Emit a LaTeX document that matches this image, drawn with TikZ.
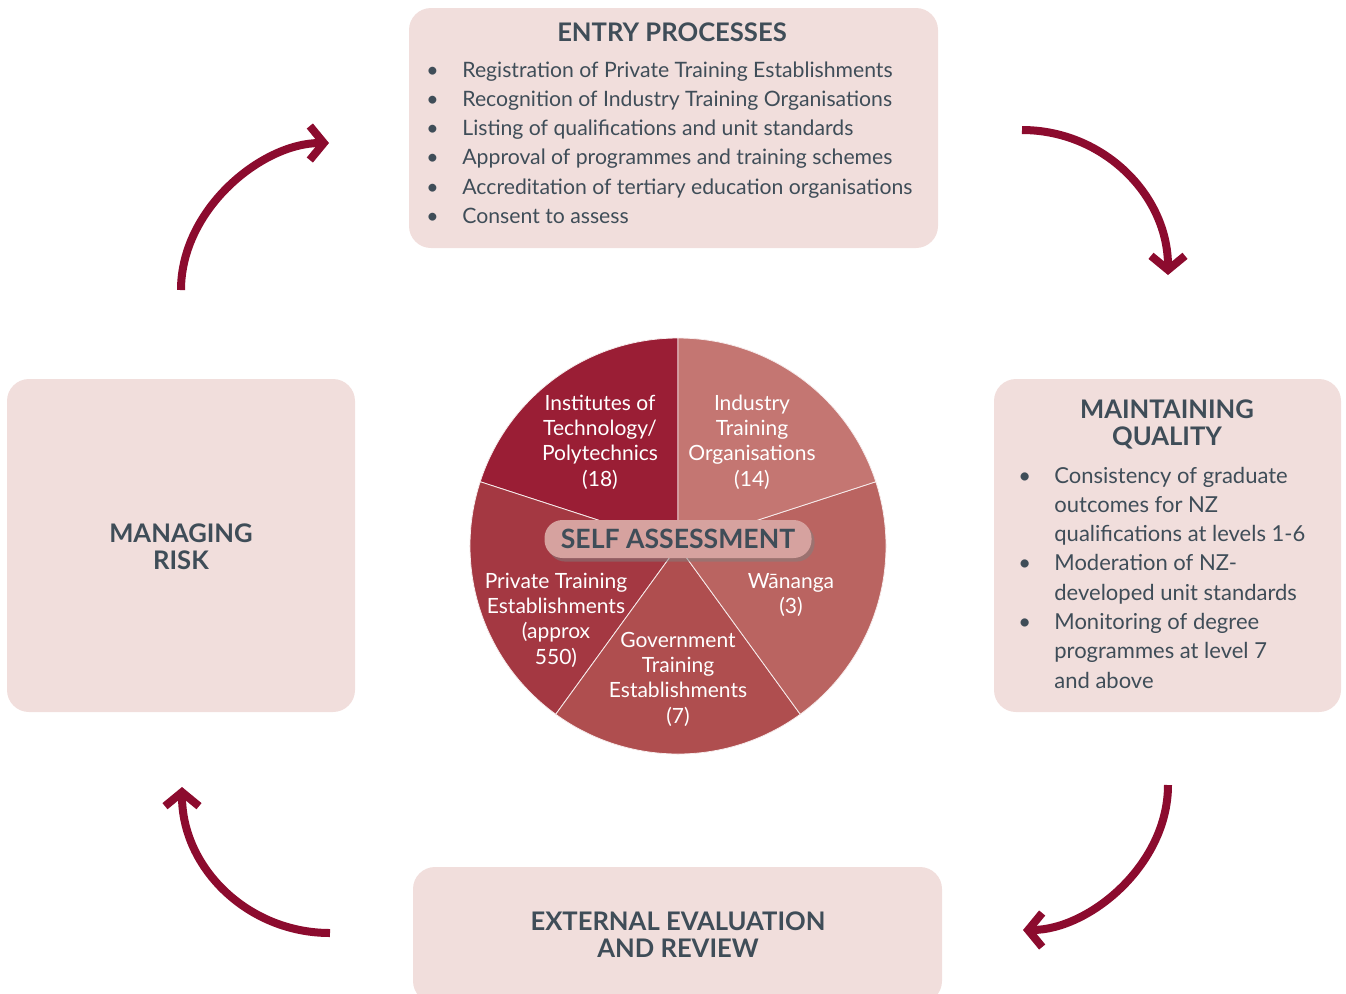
\documentclass[tikz,border=0pt]{standalone}
\usepackage{fontspec}
\setmainfont{Lato}
\usetikzlibrary{arrows.meta,shadows}
\definecolor{boxpink}{HTML}{F1DEDC}
\definecolor{slate}{HTML}{3F4D58}
\definecolor{arrowred}{HTML}{8C0B2E}
\definecolor{sliceITP}{HTML}{9A1E35}
\definecolor{sliceITO}{HTML}{C47672}
\definecolor{sliceWan}{HTML}{BA6461}
\definecolor{sliceGov}{HTML}{AF4E4F}
\definecolor{slicePTE}{HTML}{A43842}
\definecolor{pillpink}{HTML}{D6A29F}
\begin{document}
\begin{tikzpicture}[x=0.5pt, y=-0.5pt,
	stagebox/.style={rectangle, rounded corners=11pt, fill=boxpink, inner sep=0pt},
	heading/.style={text=slate, font=\fontsize{12.8}{13.5}\selectfont\bfseries, align=center, inner sep=0pt},
	listtext/.style={text=slate, font=\fontsize{11}{14.65}\selectfont, align=left, inner sep=0pt},
	slicetext/.style={text=white, font=\fontsize{10.5}{12.65}\selectfont, align=center, inner sep=0pt},
	cyclearrow/.style={draw=arrowred, line width=4pt, -{Straight Barb[length=7pt, width=17pt]}}]
	\useasboundingbox (0,0) rectangle (1346,993);
	\node[stagebox, minimum width=264.5pt, minimum height=120pt] (Entry) at (673.5, 128) {};
	\node[stagebox, minimum width=173.5pt, minimum height=166.5pt] (Quality) at (1167.5, 545.5) {};
	\node[stagebox, minimum width=174pt, minimum height=166.5pt] (Risk) at (181, 545.5) {};
	\node[stagebox, minimum width=264.5pt, minimum height=68pt] (Review) at (677.5, 935) {};
	\node[heading] (Entry title) at (672, 32) {ENTRY PROCESSES};
	\node[listtext, font=\fontsize{10.6}{14.65}\selectfont, anchor=base west] (Entry list) at (426, 77) {\begin{tabular}[t]{@{}p{18pt}@{}l@{}}
		\textbullet & Registration of Private Training Establishments\\
		\textbullet & Recognition of Industry Training Organisations\\
		\textbullet & Listing of qualifications and unit standards\\
		\textbullet & Approval of programmes and training schemes\\
		\textbullet & Accreditation of tertiary education organisations\\
		\textbullet & Consent to assess
	\end{tabular}};
	\node[heading] (Quality title) at (1167, 424.5) {MAINTAINING\\QUALITY};
	\node[listtext, anchor=base west] (Quality list) at (1018, 483) {\begin{tabular}[t]{@{}p{18pt}@{}l@{}}
		\textbullet & Consistency of graduate\\
		 & outcomes for NZ\\
		 & qualifications at levels 1-6\\
		\textbullet & Moderation of NZ-\\
		 & developed unit standards\\
		\textbullet & Monitoring of degree\\
		 & programmes at level 7\\
		 & and above
	\end{tabular}};
	\node[heading] (Risk title) at (181, 546.5) {MANAGING\\RISK};
	\node[heading] (Review title) at (678, 934.5) {EXTERNAL EVALUATION\\AND REVIEW};
	\begin{scope}[shift={(678,546)}, x=0.5pt, y=0.5pt, draw=white!80!pillpink, line width=0.4pt]
		\filldraw[fill=sliceITP] (0,0) -- (90:208) arc[start angle=90, end angle=162, radius=208] -- cycle;
		\filldraw[fill=slicePTE] (0,0) -- (162:208) arc[start angle=162, end angle=234, radius=208] -- cycle;
		\filldraw[fill=sliceGov] (0,0) -- (234:208) arc[start angle=234, end angle=306, radius=208] -- cycle;
		\filldraw[fill=sliceWan] (0,0) -- (306:208) arc[start angle=306, end angle=378, radius=208] -- cycle;
		\filldraw[fill=sliceITO] (0,0) -- (18:208) arc[start angle=18, end angle=90, radius=208] -- cycle;
	\end{scope}
	\node[slicetext] (ITP) at (600, 442) {Institutes of\\Technology/\\Polytechnics\\(18)};
	\node[slicetext] (ITO) at (752, 442) {Industry\\Training\\Organisations\\(14)};
	\node[slicetext] (Wananga) at (791, 595) {Wānanga\\(3)};
	\node[slicetext] (GTE) at (678, 679) {Government\\Training\\Establishments\\(7)};
	\node[slicetext] (PTE) at (556, 620) {Private Training\\Establishments\\(approx\\550)};
	\node[rectangle, rounded corners=9pt, fill=pillpink, minimum width=133.5pt, minimum height=19pt, text=slate, font=\fontsize{13.3}{14}\selectfont\bfseries, drop shadow={opacity=0.5, shadow xshift=1.5pt, shadow yshift=-1.8pt}] (Self) at (678, 539) {SELF ASSESSMENT};
	\coordinate (entry out) at (1022, 130);
	\coordinate (quality in) at (1168, 275);
	\coordinate (quality out) at (1168, 785);
	\coordinate (review in) at (1023, 930);
	\coordinate (review out) at (330, 933);
	\coordinate (risk in) at (182, 787);
	\coordinate (risk out) at (181, 290);
	\coordinate (entry in) at (329, 143);
	\draw[cyclearrow] (entry out) .. controls (1103, 130) and (1168, 195) .. (quality in);
	\draw[cyclearrow] (quality out) .. controls (1168, 865) and (1089, 930) .. (review in);
	\draw[cyclearrow] (review out) .. controls (248, 933) and (182, 868) .. (risk in);
	\draw[cyclearrow] (risk out) .. controls (181, 209) and (262, 143) .. (entry in);
\end{tikzpicture}
\end{document}
